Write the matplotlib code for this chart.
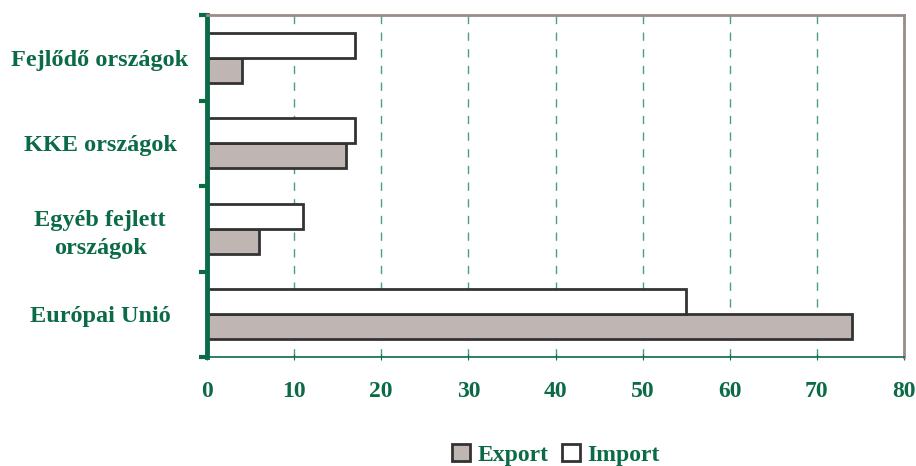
import numpy as np
import matplotlib.pyplot as plt

# categories bottom to top
categories = ["Európai Unió", "Egyéb fejlett\nországok", "KKE országok", "Fejlődő országok"]
export = [74, 6, 16, 4]
imports = [55, 11, 17, 17]

green = "#0b6b47"
grid_green = "#4aa07f"

plt.rcParams['font.family'] = ['Liberation Serif', 'DejaVu Serif']

fig = plt.figure(figsize=(9.16, 4.66), dpi=100)
ax = fig.add_axes([207/916, 1 - 357/466, (904-207)/916, (357-15)/466])

y = np.arange(len(categories))
h = 0.29
ax.barh(y - h/2, export, height=h, color="#bfb6b3", edgecolor="#333333", linewidth=2, label="Export")
ax.barh(y + h/2, imports, height=h, color="white", edgecolor="#333333", linewidth=2, label="Import")

ax.set_xlim(0, 80)
ax.set_ylim(-0.5, 3.5)
ax.set_xticks(range(0, 81, 10))
ax.set_yticks(y)
ax.set_yticklabels(categories, fontsize=17.5, fontweight="bold", color=green, ha="center",
                   linespacing=1.45)
ax.tick_params(axis="y", length=0, pad=77)
ax.set_yticks(np.arange(-0.5, 4, 1), minor=True)
ax.tick_params(axis="y", which="minor", length=6, width=3, color=green, direction="out")
ax.tick_params(axis="x", labelsize=17, labelcolor=green, color=green, length=5, direction="inout", pad=15)
for lab in ax.get_xticklabels():
    lab.set_fontweight("bold")

ax.grid(axis="x", color=grid_green, linestyle=(0, (6, 6)), linewidth=1)
ax.set_axisbelow(True)

ax.spines["left"].set_color(green)
ax.spines["left"].set_linewidth(3.5)
ax.spines["bottom"].set_color(green)
ax.spines["bottom"].set_linewidth(1.2)
ax.spines["top"].set_color("#9a8c88")
ax.spines["top"].set_linewidth(2)
ax.spines["right"].set_color("#9a8c88")
ax.spines["right"].set_linewidth(2)

leg = fig.legend(loc="center", bbox_to_anchor=(556/916, 1 - 455/466), ncol=2, frameon=False,
                 handlelength=0.75, handleheight=0.75, handletextpad=0.3, columnspacing=0.6,
                 prop={"size": 17, "weight": "bold"})
for t in leg.get_texts():
    t.set_color(green)

fig.savefig("out.png", dpi=100)
